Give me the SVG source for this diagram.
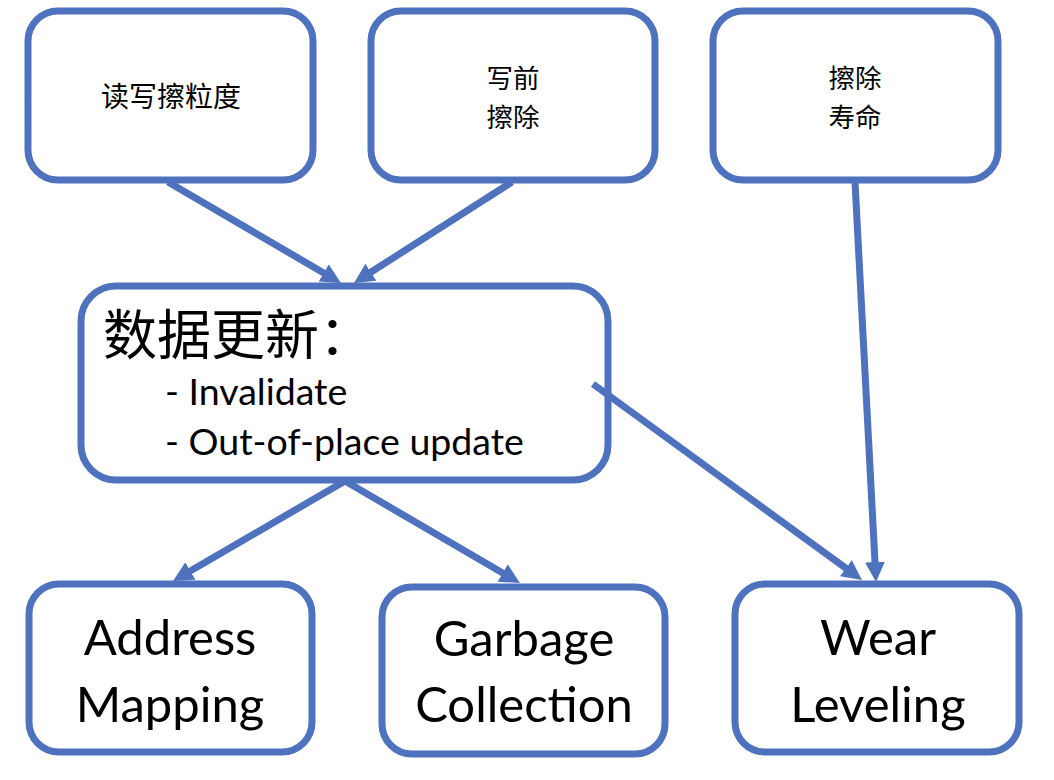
<svg xmlns="http://www.w3.org/2000/svg" width="1054" height="780" viewBox="0 0 1054 780">
<style>
.box{fill:#ffffff;stroke:#4F72BE;stroke-width:7}
.edge{fill:none;stroke:#4F72BE;stroke-width:7;marker-end:url(#arrow)}
.cjk{font-family:"Noto Sans CJK SC","Noto Sans",sans-serif;fill:#000}
.lat{font-family:Lato,"Noto Sans CJK SC",sans-serif;fill:#000}
.big{font-size:49px;text-anchor:middle}
.small{font-size:26.5px;text-anchor:middle}
</style>
<defs>
<marker id="arrow" markerUnits="userSpaceOnUse" markerWidth="20" markerHeight="20" refX="8" refY="10" orient="auto" viewBox="0 0 20 20">
<path d="M0,0 L20,10 L0,20 z" fill="#4F72BE"/>
</marker>
</defs>
<rect width="1054" height="780" fill="#ffffff"/>
<g id="node-rw">
<rect class="box" x="28" y="11" width="285" height="169" rx="30"/>
<text class="cjk" x="171" y="107" font-size="28" text-anchor="middle">读写擦粒度</text>
</g>
<g id="node-erase-before-write">
<rect class="box" x="371" y="11" width="284" height="169" rx="30"/>
<text class="cjk small" x="513" y="88">写前</text>
<text class="cjk small" x="513" y="126.5">擦除</text>
</g>
<g id="node-erase-life">
<rect class="box" x="713" y="11" width="285" height="169" rx="30"/>
<text class="cjk small" x="855" y="88">擦除</text>
<text class="cjk small" x="855" y="126.5">寿命</text>
</g>
<g id="node-update">
<rect class="box" x="81" y="286" width="527" height="194" rx="35"/>
<text class="cjk" x="103" y="355" font-size="54">数据更新：</text>
<text class="lat" x="165" y="405" font-size="37.5">- Invalidate</text>
<text class="lat" x="165" y="455" font-size="37.5">- Out-of-place update</text>
</g>
<g id="node-address">
<rect class="box" x="29" y="584" width="283" height="168" rx="30"/>
<text class="lat big" x="170" y="655">Address</text>
<text class="lat big" x="170" y="722">Mapping</text>
</g>
<g id="node-gc">
<rect class="box" x="382" y="587" width="283" height="167" rx="30"/>
<text class="lat big" x="524" y="656">Garbage</text>
<text class="lat big" x="524" y="722">Collection</text>
</g>
<g id="node-wear">
<rect class="box" x="735" y="584" width="284" height="168" rx="30"/>
<text class="lat big" x="878" y="655">Wear</text>
<text class="lat big" x="878" y="722">Leveling</text>
</g>
<g id="connectors">
<line class="edge" x1="168" y1="182" x2="330.6" y2="277"/>
<line class="edge" x1="512" y1="182" x2="364.1" y2="276.5"/>
<line class="edge" x1="855" y1="182" x2="875.4" y2="570"/>
<line class="edge" x1="593" y1="384" x2="852.3" y2="572.9"/>
<line class="edge" x1="345" y1="481" x2="183.4" y2="575"/>
<line class="edge" x1="345" y1="481" x2="509.6" y2="577"/>
</g>
</svg>
